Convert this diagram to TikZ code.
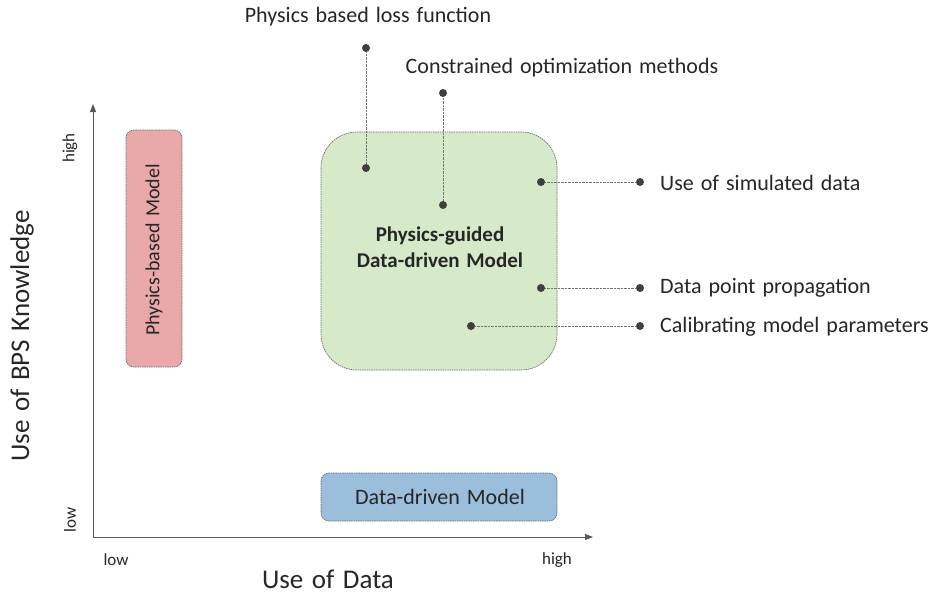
\documentclass[tikz,border=0pt]{standalone}
\usepackage{fontspec}
\setmainfont{Carlito}[WordSpace=1.4]
\usetikzlibrary{arrows.meta}
\definecolor{pinkfill}{HTML}{EAA9A9}
\definecolor{greenfill}{HTML}{D6E9C8}
\definecolor{bluefill}{HTML}{9BBEDD}
\definecolor{dotcol}{HTML}{3F3F3F}
\definecolor{bordercol}{HTML}{6E6E6E}
\definecolor{txtcol}{HTML}{262626}
\begin{document}
\begin{tikzpicture}[x=1pt,y=-1pt,
  axis/.style={draw=black!65, line width=0.9pt, -{Triangle[length=8pt,width=6pt]}},
  modelbox/.style={draw=bordercol, dash pattern=on 1.5pt off 0.8pt, line width=0.7pt},
  pt/.style={circle, fill=dotcol, inner sep=0pt, minimum size=8pt},
  link/.style={draw=black!55, line width=0.7pt, dash pattern=on 0.8pt off 0.6pt},
  lbl/.style={font=\fontsize{22}{26}\selectfont, text=txtcol, inner sep=0pt},
  small/.style={font=\fontsize{17}{20}\selectfont, text=txtcol, inner sep=0pt},
  big/.style={font=\fontsize{27}{32}\selectfont, text=txtcol, inner sep=0pt}]
\useasboundingbox (0,0) rectangle (943,594);
% axes
\coordinate (o) at (93,537);
\coordinate (ytip) at (93,104);
\coordinate (xtip) at (593,537);
\draw[axis] (o) -- (ytip);
\draw[axis] (o) -- (xtip);
\node[small, rotate=90] (yhigh) at (70,148) {high};
\node[small, rotate=90] (ylow) at (70,520) {low};
\node[small] (xlow) at (116,560) {low};
\node[small] (xhigh) at (557,560) {high};
\node[big] (xlab) at (328,579) {Use of Data};
\node[big, rotate=90] (ylab) at (22,336) {Use of BPS Knowledge};
% boxes
\draw[modelbox, fill=pinkfill, rounded corners=8pt] (126,130) rectangle (182,367);
\node[lbl, font=\fontsize{20}{24}\selectfont, rotate=90] (pbm) at (154,250) {Physics-based Model};
\draw[modelbox, fill=greenfill, rounded corners=36pt] (321,132) rectangle (557,370);
\node[lbl, font=\fontsize{21}{26.5}\selectfont\bfseries, align=center] (pg) at (440,247) {Physics-guided\\Data-driven Model};
\draw[modelbox, fill=bluefill, rounded corners=8pt] (321,473) rectangle (557,521);
\node[lbl] (ddm) at (440,497) {Data-driven Model};
% dots and links
\node[pt] (a1) at (366,168) {};
\node[pt] (a2) at (366,48) {};
\node[pt] (b1) at (443,205) {};
\node[pt] (b2) at (443,93) {};
\node[pt] (c1) at (541,182) {};
\node[pt] (c2) at (640,182) {};
\node[pt] (d1) at (541,288) {};
\node[pt] (d2) at (640,288) {};
\node[pt] (e1) at (471,326) {};
\node[pt] (e2) at (640,326) {};
\draw[link] (a1) -- (a2);
\draw[link] (b1) -- (b2);
\draw[link] (c1) -- (c2);
\draw[link] (d1) -- (d2);
\draw[link] (e1) -- (e2);
\node[lbl] (la) at (368,17) {Physics based loss function};
\node[lbl] (lb) at (562,68) {Constrained optimization methods};
\node[lbl, anchor=west] (lc) at (660,183) {Use of simulated data};
\node[lbl, anchor=west] (ld) at (660,288) {Data point propagation};
\node[lbl, anchor=west] (le) at (660,327) {Calibrating model parameters};
\end{tikzpicture}
\end{document}
